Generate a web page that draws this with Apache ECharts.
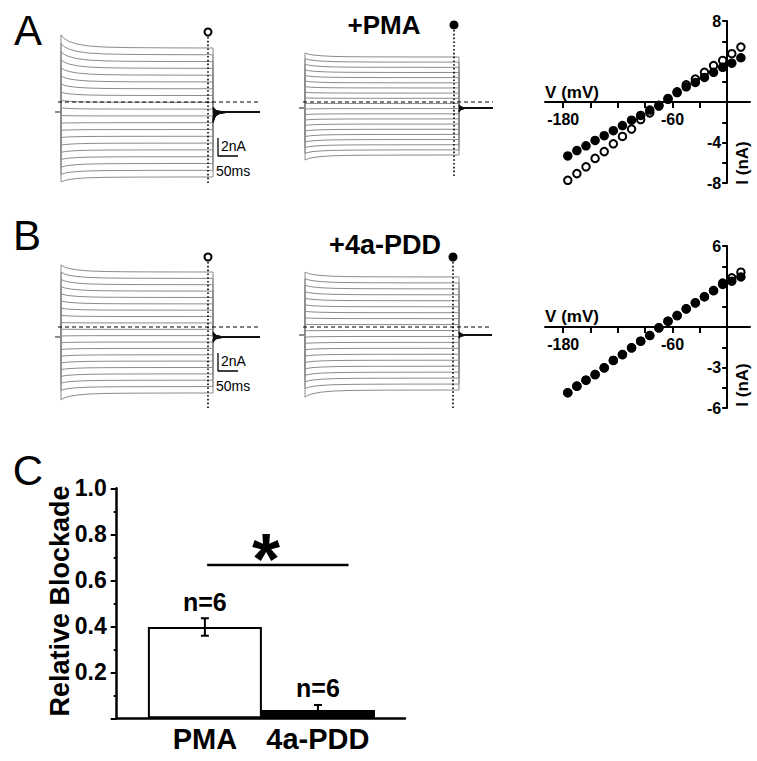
<!DOCTYPE html>
<html><head><meta charset="utf-8">
<script src="https://cdn.jsdelivr.net/npm/echarts@6/dist/echarts.min.js"></script>
<style>html,body{margin:0;padding:0;background:#fff}#c{width:757px;height:761px}</style>
</head><body><div id="c"></div>
<script>
// ---------------- DATA ----------------
// I-V relations (mV, nA)
const ivVoltage = [-175,-165,-155,-145,-135,-125,-115,-105,-95,-85,-75,-65,-55,-45,-35,-25,-15,-5,5,15];
const ivA_control = [-7.73,-7.07,-6.4,-5.57,-4.9,-4.13,-3.4,-2.67,-1.73,-1.07,-0.4,0.35,1.0,1.7,2.27,2.93,3.6,4.1,4.77,5.43];
const ivA_pma     = [-5.33,-4.8,-4.33,-3.8,-3.33,-2.83,-2.33,-1.8,-1.33,-0.8,-0.33,0.27,0.93,1.5,1.93,2.43,2.93,3.43,3.83,4.37];
const ivB_control = [-4.87,-4.38,-3.94,-3.52,-3.02,-2.48,-2.04,-1.54,-1.05,-0.63,-0.06,0.43,0.85,1.35,1.79,2.24,2.7,3.25,3.64,4.06];
const ivB_pdd     = [-4.87,-4.38,-3.94,-3.52,-3.02,-2.48,-2.04,-1.54,-1.05,-0.63,-0.06,0.43,0.85,1.35,1.79,2.24,2.7,3.15,3.39,3.71];
const ivXTicks = [-180,-150,-120,-90,-60,-30,0];
const ivXLabels = [-180,-60];
const ivAYTicks = [-8,-6,-4,-2,0,2,4,6,8];
const ivAYLabels = [8,-4,-8];
const ivBYTicks = [-6,-4.5,-3,-1.5,0,1.5,3,4.5,6];
const ivBYLabels = [6,-3,-6];

// current traces (nA relative to zero-current line): steady level and level at pulse onset
const traceA_ctrl_steady = [6.0,5.25,4.49,3.74,2.98,2.23,1.47,0.72,-0.04,-0.79,-1.55,-2.3,-3.06,-3.81,-4.57,-5.32,-6.08,-6.83,-7.59,-8.33];
const traceA_ctrl_start  = [7.45,6.5,5.6,4.7,3.8,2.9,2.0,1.1,0.2,-0.65,-1.5,-2.35,-3.15,-3.95,-4.8,-5.6,-6.4,-7.25,-8.05,-8.9];
const traceA_pma_steady  = [5.0,4.43,3.85,3.28,2.71,2.13,1.56,0.99,0.41,-0.16,-0.73,-1.31,-1.88,-2.45,-3.03,-3.6,-4.17,-4.75,-5.32,-5.89];
const traceA_pma_start   = [5.45,4.82,4.2,3.57,2.95,2.33,1.7,1.08,0.46,-0.16,-0.78,-1.4,-2.0,-2.6,-3.22,-3.85,-4.45,-5.07,-5.7,-6.45];
const traceB_ctrl_steady = [6.11,5.4,4.7,3.99,3.28,2.57,1.87,1.16,0.45,-0.26,-0.96,-1.67,-2.38,-3.09,-3.79,-4.5,-5.21,-5.91,-6.62,-7.33];
const traceB_ctrl_start  = [6.9,6.1,5.3,4.5,3.7,2.9,2.1,1.3,0.5,-0.25,-1.0,-1.75,-2.5,-3.25,-4.0,-4.75,-5.5,-6.25,-7.05,-8.1];
const traceB_pdd_steady  = [5.56,4.9,4.24,3.58,2.92,2.25,1.59,0.93,0.27,-0.39,-1.05,-1.71,-2.37,-3.03,-3.69,-4.36,-5.02,-5.68,-6.34,-7.0];
const traceB_pdd_start   = [6.1,5.38,4.65,3.92,3.2,2.47,1.75,1.02,0.3,-0.42,-1.12,-1.83,-2.53,-3.24,-3.95,-4.66,-5.38,-6.1,-6.85,-7.8];
// tail current amplitude (nA relative to holding) at the end of each pulse
const tailA_ctrl = [0.55,0.46,0.37,0.27,0.18,0.09,0.0,-0.09,-0.18,-0.28,-0.37,-0.46,-0.55,-0.65,-0.74,-0.83,-0.92,-1.01,-1.11,-1.2];
const tailA_pma  = [0.35,0.31,0.27,0.22,0.18,0.14,0.1,0.06,0.02,-0.03,-0.07,-0.11,-0.16,-0.2,-0.24,-0.28,-0.32,-0.37,-0.41,-0.45];
const tailB_ctrl = [0.55,0.49,0.43,0.36,0.3,0.24,0.18,0.12,0.06,0.0,-0.06,-0.12,-0.18,-0.24,-0.3,-0.36,-0.42,-0.48,-0.54,-0.6];
const tailB_pdd  = [0.35,0.31,0.28,0.24,0.2,0.17,0.13,0.09,0.06,0.02,-0.02,-0.06,-0.09,-0.13,-0.17,-0.2,-0.24,-0.28,-0.31,-0.35];
// holding current (nA)
const holdLevels = [-1.11,-0.67,-1.11,-0.89];
// normalised relaxation after pulse onset (ms, fraction) and tail decay (ms, fraction)
const relaxTime = [0,8,20,40,70,110,170,260];
const relaxFrac = [1,0.72,0.5,0.3,0.15,0.07,0.03,0.01];
const tailTime = [0,3,7,12,20,32,50];
const tailFrac = [1,0.6,0.35,0.2,0.09,0.03,0];

// bar chart
const barCategories = ['PMA','4a-PDD'];
const barMeans = [0.397,0.036];
const barErrors = [0.038,0.022];
const barN = [6,6];
const sigBracket = [[1.02,0.667],[2.27,0.667]];

// ---------------- BUILD ----------------
const FF = '"Liberation Sans", Arial, sans-serif';
const panels = [
  {steady:traceA_ctrl_steady,start:traceA_ctrl_start,tail:tailA_ctrl,hold:holdLevels[0],pulse:380,tailScale:1.0,tailEnd:497.5,dash:[-7.5,497.5],markT:367.5,mark:[7.22,-9.22],circle:7.78,open:true,scale:{bar:[[392.5,-4],[392.5,-6],[442.5,-6]]}},
  {steady:traceA_pma_steady,start:traceA_pma_start,tail:tailA_pma,hold:holdLevels[1],pulse:385,tailScale:0.7,tailEnd:470,dash:[-5,470],markT:372.5,mark:[8.0,-8.44],circle:8.56,open:false},
  {steady:traceB_ctrl_steady,start:traceB_ctrl_start,tail:tailB_ctrl,hold:holdLevels[2],pulse:380,tailScale:1.0,tailEnd:497.5,dash:[-7.5,497.5],markT:367.5,mark:[7.22,-9.22],circle:7.78,open:true,scale:{bar:[[392.5,-2.89],[392.5,-4.89],[442.5,-4.89]]}},
  {steady:traceB_pdd_steady,start:traceB_pdd_start,tail:tailB_pdd,hold:holdLevels[3],pulse:385,tailScale:0.7,tailEnd:467.5,dash:[-5,467.5],markT:370,mark:[7.22,-9.22],circle:7.78,open:false}
];
const traceGrids = [
  {left:40,top:15,width:222,height:180},
  {left:284,top:15,width:222,height:180},
  {left:40,top:240,width:222,height:180},
  {left:284,top:240,width:222,height:180}
];
const grids = traceGrids.concat([
  {left:545,top:21,width:205,height:162},
  {left:545,top:246,width:205,height:162},
  {left:116.7,top:488.3,width:288.3,height:230}
]);
const xAxes = [], yAxes = [], series = [];
traceGrids.forEach((g,gi)=>{
  xAxes.push({gridIndex:gi,type:'value',min:-52.5,max:502.5,show:false});
  yAxes.push({gridIndex:gi,type:'value',min:-10.333,max:9.667,show:false});
});
panels.forEach((p,gi)=>{
  p.steady.forEach((ss,i)=>{
    const st = p.start[i];
    const pts = [[-15,p.hold],[0,p.hold]];
    relaxTime.forEach((t,k)=>pts.push([t, ss+(st-ss)*relaxFrac[k]]));
    pts.push([p.pulse, ss]);
    pts.push([p.pulse, p.hold+p.tail[i]]);
    series.push({type:'line',xAxisIndex:gi,yAxisIndex:gi,data:pts,showSymbol:false,silent:true,
      lineStyle:{color:'#8c8c8c',width:1},z:2});
    const tp = [];
    tailTime.forEach((t,k)=>tp.push([p.pulse+t*p.tailScale, p.hold+p.tail[i]*tailFrac[k]]));
    tp.push([p.tailEnd,p.hold]);
    series.push({type:'line',xAxisIndex:gi,yAxisIndex:gi,data:tp,showSymbol:false,silent:true,
      lineStyle:{color:'#111',width:1.3},z:3});
  });
  series.push({type:'line',xAxisIndex:gi,yAxisIndex:gi,data:[[p.dash[0],0],[p.dash[1],0]],showSymbol:false,silent:true,
    lineStyle:{color:'#000',width:1,type:[4,3]},z:4});
  series.push({type:'line',xAxisIndex:gi,yAxisIndex:gi,data:[[p.markT,p.mark[0]],[p.markT,p.mark[1]]],showSymbol:false,silent:true,
    lineStyle:{color:'#000',width:1.6,type:[1.6,2.2]},z:5});
  series.push({type:'scatter',xAxisIndex:gi,yAxisIndex:gi,data:[[p.markT,p.circle]],symbol:'circle',symbolSize:p.open?7:9,silent:true,
    itemStyle:p.open?{color:'#fff',borderColor:'#000',borderWidth:2,opacity:1}:{color:'#000',opacity:1},z:6});
  if (p.scale) {
    series.push({type:'line',xAxisIndex:gi,yAxisIndex:gi,data:p.scale.bar,showSymbol:false,silent:true,
      lineStyle:{color:'#000',width:1.3},z:6});
  }
});
// IV axes: axis lines placed through the origin with offsets
function ivAxes(gi, ymin, ymax, yt, yl) {
  xAxes.push({gridIndex:gi,type:'value',min:-200,max:25,position:'bottom',offset:-81,
    axisLine:{onZero:false,lineStyle:{color:'#000',width:2}},
    axisTick:{show:true,customValues:ivXTicks,length:6,lineStyle:{color:'#000',width:2}},
    axisLabel:{customValues:ivXLabels,color:'#000',fontSize:16,fontWeight:'bold',fontFamily:FF,margin:9},
    splitLine:{show:false}});
  yAxes.push({gridIndex:gi,type:'value',min:ymin,max:ymax,position:'left',offset:-182.2,
    axisLine:{onZero:false,lineStyle:{color:'#000',width:2}},
    axisTick:{show:true,customValues:yt,length:5,lineStyle:{color:'#000',width:2}},
    axisLabel:{customValues:yl,color:'#000',fontSize:16,fontWeight:'bold',fontFamily:FF,margin:6},
    splitLine:{show:false}});
}
ivAxes(4,-8,8,ivAYTicks,ivAYLabels);
ivAxes(5,-6,6,ivBYTicks,ivBYLabels);
function ivSeries(gi, vals, open) {
  series.push({type:'scatter',xAxisIndex:gi,yAxisIndex:gi,data:ivVoltage.map((v,i)=>[v,vals[i]]),
    symbol:'circle',symbolSize:open?7.5:9.5,silent:true,
    itemStyle:open?{color:'#fff',borderColor:'#000',borderWidth:2,opacity:1}:{color:'#000',opacity:1},z:open?5:6});
}
ivSeries(4, ivA_control, true);
ivSeries(4, ivA_pma, false);
ivSeries(5, ivB_control, true);
ivSeries(5, ivB_pdd, false);

// bar chart axes
xAxes.push({gridIndex:6,type:'value',min:0.22,max:2.77,
  axisLine:{onZero:false,lineStyle:{color:'#000',width:2.5}},
  axisTick:{show:false},
  axisLabel:{customValues:[1,2],formatter:v=>barCategories[Math.round(v)-1],color:'#000',fontSize:29,fontWeight:'bold',fontFamily:FF,margin:6},
  splitLine:{show:false}});
yAxes.push({gridIndex:6,type:'value',min:0,max:1,interval:0.2,
  axisLine:{show:true,onZero:false,lineStyle:{color:'#000',width:2.5}},
  axisTick:{show:true,length:6,lineStyle:{color:'#000',width:2}},
  minorTick:{show:true,splitNumber:2,length:3,lineStyle:{color:'#000',width:2}},
  axisLabel:{formatter:v=>v===0?'':v.toFixed(1),color:'#000',fontSize:23,fontWeight:'bold',fontFamily:FF,margin:10},
  splitLine:{show:false}});
series.push({type:'bar',xAxisIndex:6,yAxisIndex:6,barWidth:114,silent:true,
  data:barMeans.map((m,i)=>({value:[i+1,m],itemStyle:i===0?{color:'#fff',borderColor:'#000',borderWidth:2}:{color:'#000'}})),z:2});
series.push({type:'custom',xAxisIndex:6,yAxisIndex:6,silent:true,z:5,
  data:barMeans.map((m,i)=>[i+1,m-barErrors[i],m+barErrors[i]]),
  encode:{x:0,y:[1,2]},
  renderItem:(params,api)=>{
    const x=api.value(0);
    const lo=api.coord([x,api.value(1)]), hi=api.coord([x,api.value(2)]);
    const w=4, st={stroke:'#000',lineWidth:2};
    return {type:'group',children:[
      {type:'line',shape:{x1:lo[0],y1:lo[1],x2:hi[0],y2:hi[1]},style:st},
      {type:'line',shape:{x1:hi[0]-w,y1:hi[1],x2:hi[0]+w,y2:hi[1]},style:st},
      {type:'line',shape:{x1:lo[0]-w,y1:lo[1],x2:lo[0]+w,y2:lo[1]},style:st}]};
  }});
series.push({type:'scatter',xAxisIndex:6,yAxisIndex:6,symbolSize:0,silent:true,itemStyle:{opacity:1},
  data:barMeans.map((m,i)=>[i+1,m+barErrors[i]]),
  label:{show:true,position:'top',distance:4,formatter:p=>'n='+barN[p.dataIndex],color:'#000',opacity:1,fontSize:25,fontWeight:'bold',fontFamily:FF}});
series.push({type:'line',xAxisIndex:6,yAxisIndex:6,data:sigBracket,showSymbol:false,silent:true,
  lineStyle:{color:'#000',width:2.5}});

function txt(text,x,y,size,bold,opts){
  return Object.assign({type:'text',x:x,y:y,silent:true,style:{text:text,fill:'#000',fontSize:size,fontWeight:bold?'bold':'normal',fontFamily:FF,align:'center',verticalAlign:'middle'}},opts||{});
}
function ltxt(text,x,y,size){
  return {type:'text',x:x,y:y,silent:true,style:{text:text,fill:'#000',fontSize:size,fontFamily:FF,align:'left',verticalAlign:'middle'}};
}
const graphic = [
  txt('A',28,30,42,false), txt('B',27,235,42,false), txt('C',28,470,42,false),
  txt('+PMA',384,25,26,true), txt('+4a-PDD',385,245,27,true),
  txt('V (mV)',572,92,17,true), txt('V (mV)',572,316,17,true),
  txt('I (nA)',742,163,17,true,{rotation:Math.PI/2}), txt('I (nA)',742,385,17,true,{rotation:Math.PI/2}),
  txt('Relative Blockade',60,601,27,true,{rotation:Math.PI/2}),
  txt('*',266,559,72,true),
  ltxt('2nA',221,146,14), ltxt('50ms',216,171,14),
  ltxt('2nA',221,361,14), ltxt('50ms',216,386,14)
];

const chart = echarts.init(document.getElementById('c'), null, {renderer:'svg'});
chart.setOption({
  animation:false,
  backgroundColor:'#fff',
  textStyle:{fontFamily:FF},
  grid:grids,
  xAxis:xAxes,
  yAxis:yAxes,
  series:series,
  graphic:graphic
});
</script>
</body></html>
